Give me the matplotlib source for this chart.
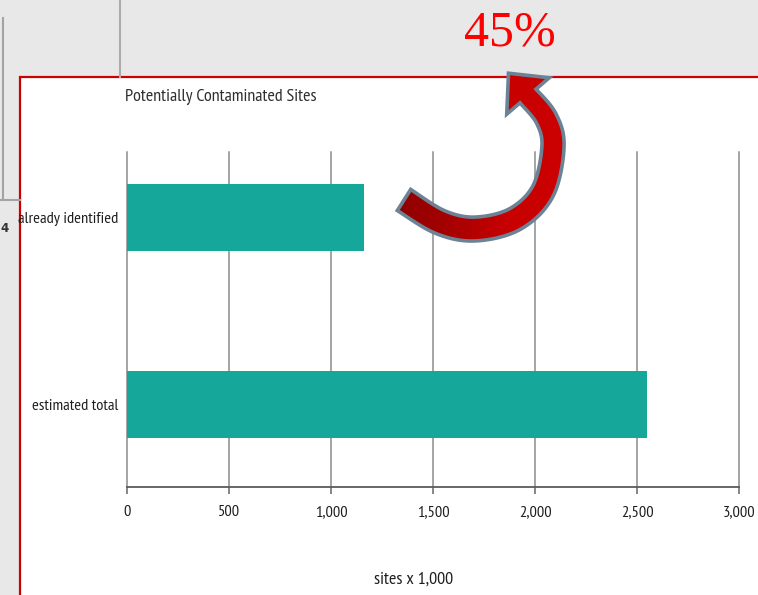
import numpy as np
import matplotlib
matplotlib.use("Agg")
import matplotlib.pyplot as plt
from matplotlib.patches import Rectangle, Polygon
from matplotlib.colors import LinearSegmentedColormap

# ---- data ----
categories = ["already identified", "estimated total"]
values = [1160, 2550]
xticks = [0, 500, 1000, 1500, 2000, 2500, 3000]
xtick_labels = ["0", "500", "1,000", "1,500", "2,000", "2,500", "3,000"]
title = "Potentially Contaminated Sites"
xlabel = "sites x 1,000"
callout = "45%"

W, H = 758, 595
NARROW = ["PT Sans Narrow", "Roboto Condensed", "DejaVu Sans"]
SERIF = ["Liberation Serif", "DejaVu Serif"]

fig = plt.figure(figsize=(W / 100, H / 100), dpi=100)
fig.patch.set_facecolor("#e8e8e8")

# ---- background layer (pixel coordinates) ----
bg = fig.add_axes([0, 0, 1, 1], zorder=0)
bg.set_xlim(0, W)
bg.set_ylim(H, 0)
bg.axis("off")
# remnants of underlying slide
bg.plot([3, 3], [18, 200], color="#a3a3a3", lw=1.5)
bg.plot([0, 20], [200, 200], color="#a3a3a3", lw=1.5)
bg.plot([120, 120], [0, 77], color="#ababab", lw=1.5)
bg.text(5, 229, "4", ha="center", va="center", fontsize=8.5, fontweight="bold", color="#333333")
# white panel with red border
bg.add_patch(Rectangle((20, 77), W - 20 + 5, H - 77 + 5, facecolor="white",
                       edgecolor="#cc0000", lw=1.6))

# ---- chart ----
x0, x1 = 127, 739
y_top, y_bot = 152, 487
ax = fig.add_axes([x0 / W, 1 - y_bot / H, (x1 - x0) / W, (y_bot - y_top) / H], zorder=1)
ax.set_facecolor("none")
ax.barh(categories, values, height=0.36, color="#14a79a", zorder=3)
ax.set_xlim(0, 3000)
ax.set_ylim(1.44, -0.35)
ax.set_xticks(xticks)
ax.set_xticklabels(xtick_labels, family=NARROW, fontsize=11.8, color="#1e1e1e")
ax.set_yticks(range(len(categories)))
ax.set_yticklabels(categories, family=NARROW, fontsize=11.8, color="#1e1e1e")
ax.tick_params(axis="y", length=0, pad=6)
ax.tick_params(axis="x", length=5, width=1.1, color="#666666", pad=8)
ax.set_axisbelow(True)
ax.grid(axis="x", color="#8c8c8c", lw=1.1)
ax.grid(axis="y", visible=False)
for ln in ax.get_xgridlines():
    ln.set_clip_on(False)
for s in ["top", "right", "left"]:
    ax.spines[s].set_visible(False)
ax.spines["bottom"].set_color("#5a5a5a")
ax.spines["bottom"].set_linewidth(1.3)

fig.text(414 / W, 1 - 580 / H, xlabel, ha="center", va="center", family=NARROW,
         fontsize=13, color="#1e1e1e")
fig.text(125 / W, 1 - 97 / H, title, ha="left", va="center", family=NARROW,
         fontsize=13, color="#2e2e2e")

# ---- overlay: curved arrow and callout ----
ov = fig.add_axes([0, 0, 1, 1], zorder=5)
ov.set_facecolor("none")
ov.axis("off")

ctrl = np.array([(404, 200), (440, 222), (475, 229), (515, 219), (543, 191),
                 (553, 146), (546, 118), (528, 96)], dtype=float)

def catmull(p, n=16):
    pts = [p[0]] + list(p) + [p[-1]]
    out = []
    for i in range(1, len(pts) - 2):
        p0, p1, p2, p3 = map(np.array, (pts[i - 1], pts[i], pts[i + 1], pts[i + 2]))
        for t in np.linspace(0, 1, n, endpoint=False):
            t2, t3 = t * t, t * t * t
            out.append(0.5 * ((2 * p1) + (-p0 + p2) * t + (2 * p0 - 5 * p1 + 4 * p2 - p3) * t2
                              + (-p0 + 3 * p1 - 3 * p2 + p3) * t3))
    out.append(np.array(p[-1]))
    return np.array(out)

c = catmull(ctrl)
tang = np.gradient(c, axis=0)
tang /= np.linalg.norm(tang, axis=1)[:, None]
nrm = np.stack([-tang[:, 1], tang[:, 0]], axis=1)
w = np.linspace(25, 21, len(c))
left = c + nrm * (w[:, None] / 2)
right = c - nrm * (w[:, None] / 2)
d = tang[-1]
n_end = nrm[-1]
hw, hl = 28, 30
head = [c[-1] + n_end * hw, c[-1] + d * hl, c[-1] - n_end * hw]
poly_pts = np.vstack([left, head, right[::-1]])

grad = np.linspace(0, 1, 256)[None, :].repeat(2, axis=0)
cmap = LinearSegmentedColormap.from_list("rg", ["#8e0000", "#a80000", "#c80000", "#cc0000"])
xmin, xmax = poly_pts[:, 0].min(), poly_pts[:, 0].max()
ymin, ymax = poly_pts[:, 1].min(), poly_pts[:, 1].max()
im = ov.imshow(grad, cmap=cmap, extent=(xmin, xmax, ymax, ymin), aspect="auto",
               interpolation="bilinear", zorder=6)
clip = Polygon(poly_pts, closed=True, facecolor="none", edgecolor="none", transform=ov.transData)
ov.add_patch(clip)
im.set_clip_path(clip)
ov.add_patch(Polygon(poly_pts, closed=True, facecolor="none", edgecolor="#6c8396",
                     lw=2.6, joinstyle="miter", zorder=7))

ov.text(510, 46, callout, ha="center", va="baseline", color="#ff0000",
        fontsize=36, family=SERIF, zorder=8)
ov.set_xlim(0, W)
ov.set_ylim(H, 0)

fig.savefig("out.png", dpi=100, facecolor=fig.get_facecolor())
